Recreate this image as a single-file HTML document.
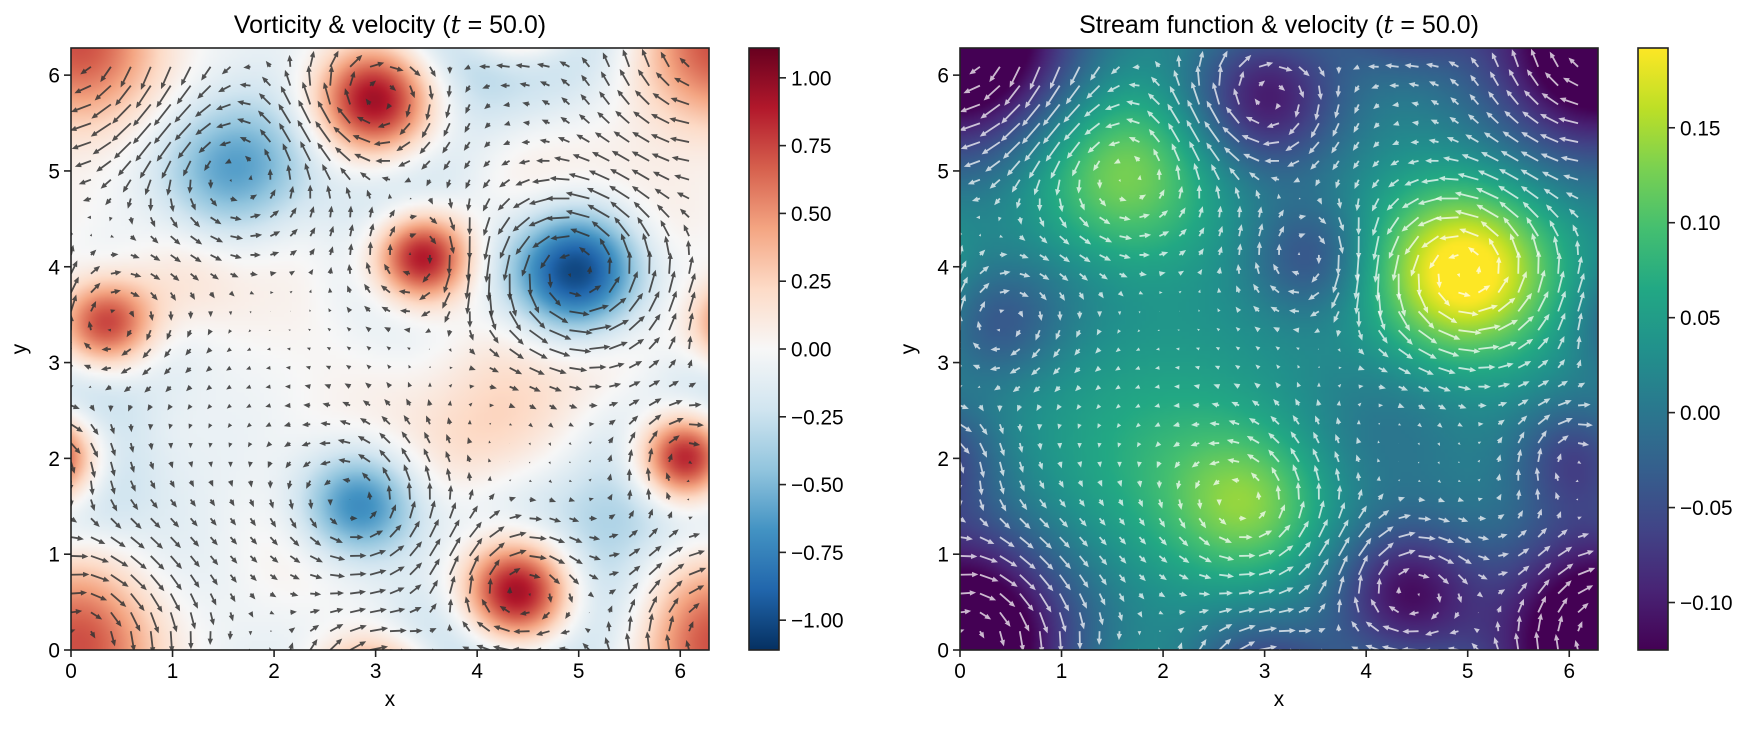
<!DOCTYPE html>
<html><head><meta charset="utf-8">
<style>
body{margin:0;background:#fff;width:1761px;height:729px;overflow:hidden;font-family:"Liberation Sans","DejaVu Sans",sans-serif;}
#wrap{position:relative;width:1761px;height:729px;}
canvas{position:absolute;}
svg{position:absolute;left:0;top:0;}
</style></head><body>
<div id="wrap">
<canvas id="c1" width="160" height="160" style="left:71px;top:48px;width:638px;height:602px"></canvas>
<canvas id="c2" width="160" height="160" style="left:960px;top:48px;width:638px;height:602px"></canvas>
<svg id="s" width="1761" height="729"></svg>
</div>
<script>
// ---- data: stream-function vortex blobs ----
const blobX = [4.97, 1.6, 2.85, 2.0, 3.0, 3.45, 4.4, 6.05, 6.2, 0.15, 0.1, 6.1, 0.35, 4.2, 1.0];
const blobY = [3.95, 5.0, 1.5, 2.0, 5.75, 4.1, 0.6, 2.0, 0.9, 0.15, 6.2, 6.1, 3.4, 2.3, 3.8];
const blobAmp = [0.19, 0.11, 0.09, 0.05, -0.13, -0.07, -0.13, -0.08, -0.03, -0.09, -0.07, -0.06, -0.06, -0.03, -0.02];
const blobSize = [0.62, 0.66, 0.53, 0.85, 0.54, 0.42, 0.51, 0.42, 0.6, 0.72, 0.8, 0.8, 0.42, 0.6, 0.5];
const psiBase = 0.025;
const xTicks = [0,1,2,3,4,5,6];
const yTicks = [0,1,2,3,4,5,6];
const vortTicks = [-1.00,-0.75,-0.50,-0.25,0.00,0.25,0.50,0.75,1.00];
const psiTicks = [-0.10,-0.05,0.00,0.05,0.10,0.15];
const vortRange = [-1.11, 1.11];
const psiRange = [-0.125, 0.192];
const quiverN = 32;

const TWO_PI = 2*Math.PI;
const rdbu = ['#053061','#2166ac','#4393c3','#92c5de','#d1e5f0','#f7f7f7','#fddbc7','#f4a582','#d6604d','#b2182b','#67001f'];
const viridis = ['#440154','#482475','#414487','#355f8d','#2a788e','#21918c','#22a884','#44bf70','#7ad151','#bddf26','#fde725'];
function hex(h){return [parseInt(h.substr(1,2),16),parseInt(h.substr(3,2),16),parseInt(h.substr(5,2),16)];}
function cmap(stops,t){t=Math.max(0,Math.min(1,t));const n=stops.length-1;const f=t*n;let i=Math.floor(f);if(i>=n)i=n-1;const r=f-i;const a=hex(stops[i]),b=hex(stops[i+1]);return [a[0]+(b[0]-a[0])*r,a[1]+(b[1]-a[1])*r,a[2]+(b[2]-a[2])*r];}

function field(x,y){
  let p=psiBase,lap=0,px=0,py=0;
  for(let k=0;k<blobX.length;k++){
    const A=blobAmp[k],s=blobSize[k],s2=s*s;
    for(let ox=-1;ox<=1;ox++)for(let oy=-1;oy<=1;oy++){
      const dx=x-blobX[k]-ox*TWO_PI,dy=y-blobY[k]-oy*TWO_PI;
      const r2=dx*dx+dy*dy; if(r2>25*s2)continue;
      const g=A*Math.exp(-r2/(2*s2));
      p+=g; px+=-dx/s2*g; py+=-dy/s2*g;
      lap+=g*(r2/(s2*s2)-2/s2);
    }
  }
  return {psi:p,w:lap,u:py,v:-px};
}
const AX=[{l:71,t:48,w:638,h:602},{l:960,t:48,w:638,h:602}];
function sx(a,x){return AX[a].l+x/TWO_PI*AX[a].w;}
function sy(a,y){return AX[a].t+AX[a].h-y/TWO_PI*AX[a].h;}

const N=160;
const c1=document.getElementById('c1').getContext('2d'),c2=document.getElementById('c2').getContext('2d');
const im1=c1.createImageData(N,N),im2=c2.createImageData(N,N);
for(let j=0;j<N;j++)for(let i=0;i<N;i++){
  const x=(i+0.5)/N*TWO_PI,y=(N-j-0.5)/N*TWO_PI;const f=field(x,y);
  const a=cmap(rdbu,(f.w-vortRange[0])/(vortRange[1]-vortRange[0]));
  const b=cmap(viridis,(f.psi-psiRange[0])/(psiRange[1]-psiRange[0]));
  const o=(j*N+i)*4;
  im1.data[o]=a[0];im1.data[o+1]=a[1];im1.data[o+2]=a[2];im1.data[o+3]=255;
  im2.data[o]=b[0];im2.data[o+1]=b[1];im2.data[o+2]=b[2];im2.data[o+3]=255;
}
c1.putImageData(im1,0,0);c2.putImageData(im2,0,0);

const NS='http://www.w3.org/2000/svg';
const svg=document.getElementById('s');
function el(tag,attrs,parent){const e=document.createElementNS(NS,tag);for(const k in attrs)e.setAttribute(k,attrs[k]);(parent||svg).appendChild(e);return e;}
function txt(s,x,y,anchor,size,parent){const t=el('text',{x:x,y:y,'text-anchor':anchor,'font-size':size,fill:'#000'},parent);t.textContent=s;return t;}
function fmt(v,d){const s=Math.abs(v).toFixed(d);return (v<0?'\u2212':'')+s;}

const defs=el('defs',{});
AX.forEach((A,a)=>{const cp=el('clipPath',{id:'clip'+a},defs);el('rect',{x:A.l,y:A.t,width:A.w,height:A.h},cp);});

const K=120;
for(let a=0;a<2;a++){
  const g=el('g',{fill:a==0?'#333':'#fff','fill-opacity':a==0?0.85:0.72,'clip-path':'url(#clip'+a+')'});
  
  
  for(let i=0;i<quiverN;i++)for(let j=0;j<quiverN;j++){
    const x=i*TWO_PI/quiverN,y=j*TWO_PI/quiverN;const f=field(x,y);
    let L=Math.hypot(f.u,f.v)*K;if(L<0.3)continue;
    const ang=Math.atan2(-f.v,f.u)*180/Math.PI;
    let w=1.8,hw=5.4,hl=6.3,sc=1;
    if(L<hl){sc=L/hl;L=hl;}
    const pts=[[0,-w/2],[L-hl,-w/2],[L-hl,-hw/2],[L,0],[L-hl,hw/2],[L-hl,w/2],[0,w/2]].map(p=>(p[0]*sc).toFixed(2)+','+(p[1]*sc).toFixed(2)).join(' ');
    const arrow=el('polygon',{points:pts,transform:'translate('+sx(a,x).toFixed(2)+','+sy(a,y).toFixed(2)+') rotate('+ang.toFixed(2)+')'},g);
    
    
  }
}

const titles=['Vorticity & velocity (','Stream function & velocity ('];
for(let a=0;a<2;a++){
  const A=AX[a];
  const fr=el('rect',{x:A.l,y:A.t,width:A.w,height:A.h,fill:'none',stroke:'#222','stroke-width':1.6});
  
  
  xTicks.forEach(v=>{const X=sx(a,v);el('line',{x1:X,x2:X,y1:A.t+A.h,y2:A.t+A.h+7,stroke:'#222','stroke-width':1.6});
    const t=txt(String(v),X,A.t+A.h+28,'middle',20.8);});
  yTicks.forEach(v=>{const Y=sy(a,v);el('line',{x1:A.l-7,x2:A.l,y1:Y,y2:Y,stroke:'#222','stroke-width':1.6});
    const t=txt(String(v),A.l-11,Y+7.5,'end',20.8);});
  const xl=txt('x',A.l+A.w/2,706,'middle',20.8);
  const yl=txt('y',0,0,'middle',20.8);yl.setAttribute('transform','translate('+(A.l-45)+','+(A.t+A.h/2)+') rotate(-90)');
  
  const tt=el('text',{x:A.l+A.w/2,y:33,'text-anchor':'middle','font-size':25,fill:'#000'});
  
  tt.appendChild(document.createTextNode(titles[a]));
  const ts=el('tspan',{'font-style':'italic','font-family':'"DejaVu Serif","Liberation Serif",serif'},tt);ts.textContent='t';
  tt.appendChild(document.createTextNode(' = 50.0)'));
}

const CB=[{l:749,stops:rdbu,range:vortRange,ticks:vortTicks,d:2,name:'vorticity-colorbar'},{l:1638,stops:viridis,range:psiRange,ticks:psiTicks,d:2,name:'stream-colorbar'}];
CB.forEach((c,k)=>{
  const gr=el('linearGradient',{id:'g'+k,x1:0,y1:1,x2:0,y2:0},defs);
  c.stops.forEach((s,i)=>el('stop',{offset:i/(c.stops.length-1),'stop-color':s},gr));
  const r=el('rect',{x:c.l,y:48,width:30,height:602,fill:'url(#g'+k+')',stroke:'#222','stroke-width':1.6});
  
  c.ticks.forEach(v=>{const Y=650-(v-c.range[0])/(c.range[1]-c.range[0])*602;
    el('line',{x1:c.l+30,x2:c.l+37,y1:Y,y2:Y,stroke:'#222','stroke-width':1.6});
    const t=txt(fmt(v,c.d),c.l+42,Y+7.5,'start',20.8);});
});
</script>
</body></html>
